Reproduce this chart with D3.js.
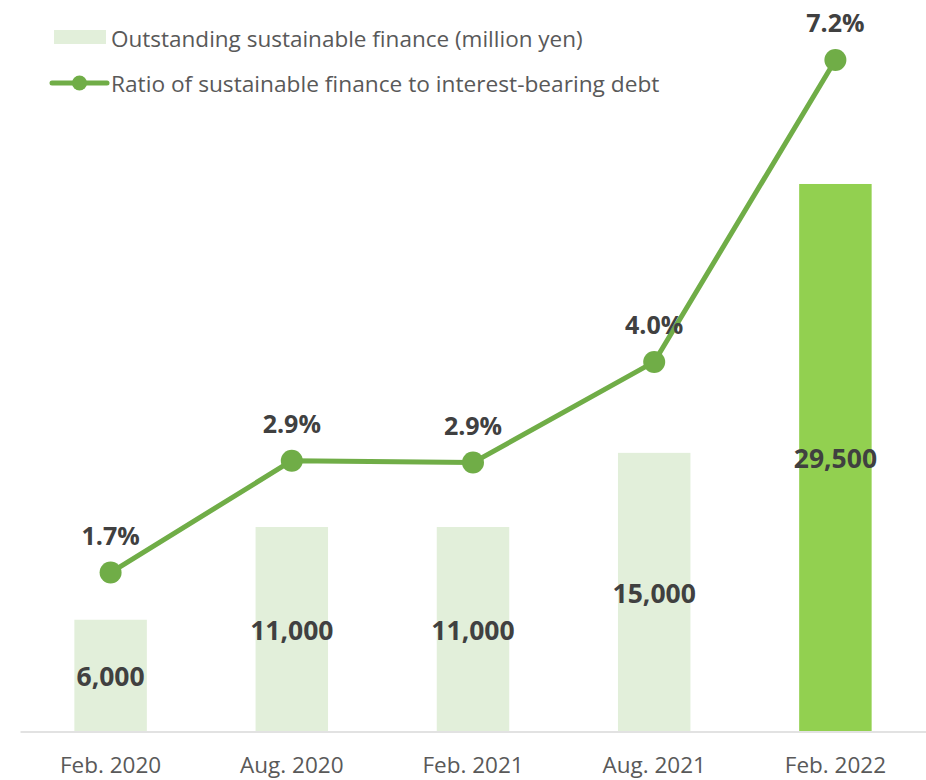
<!DOCTYPE html>
<html>
<head>
<meta charset="utf-8">
<script src="https://cdn.jsdelivr.net/npm/d3@7"></script>
<style>
  body { margin: 0; background: #fff; }
  svg { display: block; font-family: "Open Sans", "Noto Sans", sans-serif; }
</style>
</head>
<body>
<svg id="chart"></svg>
<script>
// data
var periods = ["Feb. 2020", "Aug. 2020", "Feb. 2021", "Aug. 2021", "Feb. 2022"];
var finance = [6000, 11000, 11000, 15000, 29500]; // million yen
var ratio = [1.70, 2.90, 2.88, 3.96, 7.20]; // %
var legend_labels = ["Outstanding sustainable finance (million yen)",
  "Ratio of sustainable finance to interest-bearing debt"];

// board size
var svg_w = 926, svg_h = 780;
var base_y = 731; // zero line for both series
var x_left = 20, x_right = 926;

var svg = d3.select("#chart").attr("width", svg_w).attr("height", svg_h);

var x_scale = d3.scaleBand().domain(periods).range([x_left, x_right])
  .paddingInner(0.6).paddingOuter(0.3);
var y_bar = d3.scaleLinear().domain([0, 35000]).range([base_y, base_y - 649]);
var y_line = d3.scaleLinear().domain([0, 8]).range([base_y, base_y - 745.6]);

// bars
svg.append("g").selectAll("rect").data(finance).enter()
  .append("rect")
  .attr("x", function(d, i){ return x_scale(periods[i]); })
  .attr("y", function(d){ return y_bar(d); })
  .attr("width", x_scale.bandwidth())
  .attr("height", function(d){ return base_y - y_bar(d); })
  .attr("fill", function(d, i){ return i == finance.length - 1 ? "#92D050" : "#E2EFDA"; });

// x axis
var x_axis = d3.axisBottom(x_scale).tickSize(0).tickSizeOuter(0).tickPadding(26);
var ax = svg.append("g").attr("transform", "translate(0," + (base_y + 0.5) + ")").call(x_axis);
ax.select(".domain").attr("stroke", "#D9D9D9").attr("stroke-width", 1.5);
ax.selectAll("text").attr("font-size", 22.5).attr("fill", "#595959")
  .attr("font-family", "'Open Sans', sans-serif");

// bar labels
svg.append("g").selectAll("text").data(finance).enter()
  .append("text")
  .attr("x", function(d, i){ return x_scale(periods[i]) + x_scale.bandwidth() / 2; })
  .attr("y", function(d){ return (y_bar(d) + base_y) / 2 + 11; })
  .attr("text-anchor", "middle").attr("font-size", 26.5).attr("font-weight", "bold")
  .attr("fill", "#404040")
  .text(function(d){ return d3.format(",")(d); });

// ratio line
var cx = function(d, i){ return x_scale(periods[i]) + x_scale.bandwidth() / 2; };
var line = d3.line().x(cx).y(function(d){ return y_line(d); });
svg.append("path").datum(ratio).attr("d", line)
  .attr("fill", "none").attr("stroke", "#70AD47").attr("stroke-width", 5)
  .attr("stroke-linejoin", "round");
svg.append("g").selectAll("circle").data(ratio).enter()
  .append("circle").attr("cx", cx).attr("cy", function(d){ return y_line(d); })
  .attr("r", 11).attr("fill", "#70AD47");
svg.append("g").selectAll("text").data(ratio).enter()
  .append("text").attr("x", cx).attr("y", function(d){ return y_line(d) - 28; })
  .attr("text-anchor", "middle").attr("font-size", 25).attr("font-weight", "bold")
  .attr("fill", "#404040")
  .text(function(d){ return d3.format(".1f")(d) + "%"; });

// legend
var lg = svg.append("g");
lg.append("rect").attr("x", 54).attr("y", 30).attr("width", 52).attr("height", 14)
  .attr("fill", "#E2EFDA");
lg.append("text").attr("x", 111).attr("y", 46.5).attr("font-size", 22.5)
  .attr("fill", "#595959").text(legend_labels[0]);
lg.append("line").attr("x1", 52).attr("x2", 107).attr("y1", 83).attr("y2", 83)
  .attr("stroke", "#70AD47").attr("stroke-width", 5).attr("stroke-linecap", "round");
lg.append("circle").attr("cx", 79.5).attr("cy", 83).attr("r", 7.5).attr("fill", "#70AD47");
lg.append("text").attr("x", 111).attr("y", 91.5).attr("font-size", 22.7)
  .attr("fill", "#595959").text(legend_labels[1]);
</script>
</body>
</html>
